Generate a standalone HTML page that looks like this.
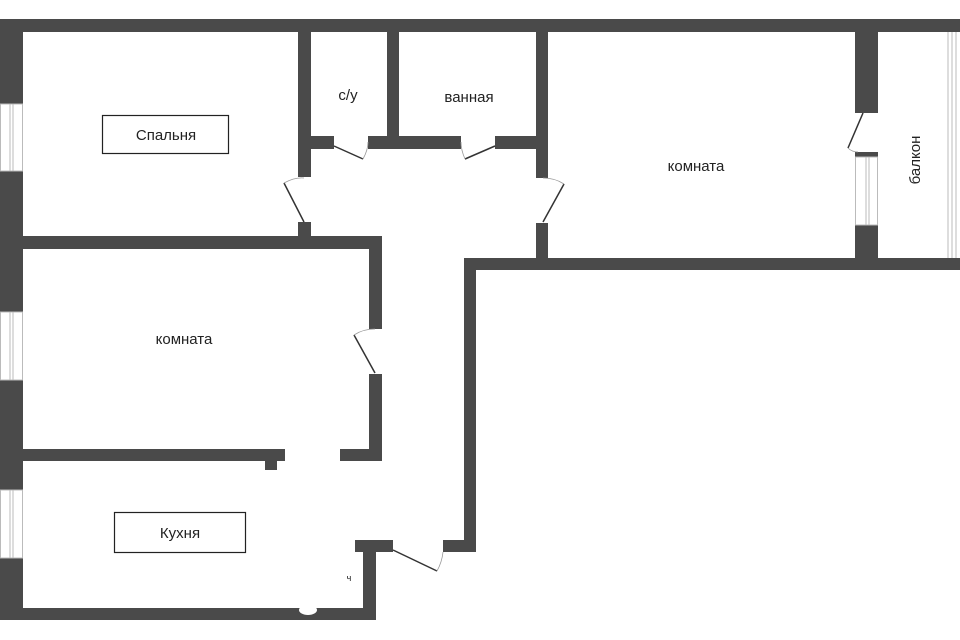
<!DOCTYPE html>
<html><head><meta charset="utf-8"><style>
html,body{margin:0;padding:0;background:#fff;width:960px;height:640px;overflow:hidden}
svg{display:block}
text{font-family:"Liberation Sans","DejaVu Sans",sans-serif;fill:#222}
</style></head><body>
<svg width="960" height="640" viewBox="0 0 960 640" xmlns="http://www.w3.org/2000/svg">
<g fill="#4a4a4a">
<rect x="0" y="19" width="960" height="13"/>
<rect x="0" y="19" width="23" height="601"/>
<rect x="298" y="32" width="13" height="145"/>
<rect x="298" y="222" width="13" height="27"/>
<rect x="387" y="32" width="12" height="104"/>
<rect x="311" y="136" width="23" height="13"/>
<rect x="368" y="136" width="93" height="13"/>
<rect x="495" y="136" width="53" height="13"/>
<rect x="536" y="32" width="12" height="146"/>
<rect x="536" y="223" width="12" height="47"/>
<rect x="0" y="236" width="382" height="13"/>
<rect x="369" y="236" width="13" height="93"/>
<rect x="369" y="374" width="13" height="87"/>
<rect x="0" y="449" width="285" height="12"/>
<rect x="265" y="449" width="12" height="21"/>
<rect x="340" y="449" width="42" height="12"/>
<rect x="464" y="258" width="496" height="12"/>
<rect x="855" y="32" width="23" height="81"/>
<rect x="855" y="152" width="23" height="5"/>
<rect x="855" y="225" width="23" height="45"/>
<rect x="464" y="258" width="12" height="294"/>
<rect x="443" y="540" width="33" height="12"/>
<rect x="355" y="540" width="38" height="12"/>
<rect x="363" y="540" width="13" height="80"/>
<rect x="0" y="608" width="376" height="12"/>
</g>
<ellipse cx="308" cy="610" rx="9" ry="5" fill="#fff"/>
<g fill="#fff" stroke="#bbb" stroke-width="1">
<rect x="0.5" y="104" width="22" height="67"/>
<rect x="0.5" y="312" width="22" height="68"/>
<rect x="0.5" y="490" width="22" height="68"/>
</g>
<g stroke="#bbb" stroke-width="1">
<line x1="10" y1="104" x2="10" y2="171"/><line x1="13" y1="104" x2="13" y2="171"/>
<line x1="10" y1="312" x2="10" y2="380"/><line x1="13" y1="312" x2="13" y2="380"/>
<line x1="10" y1="490" x2="10" y2="558"/><line x1="13" y1="490" x2="13" y2="558"/>
</g>
<rect x="855.5" y="157" width="22" height="68" fill="#fff" stroke="#bbb"/>
<line x1="866" y1="157" x2="866" y2="225" stroke="#bbb"/><line x1="869" y1="157" x2="869" y2="225" stroke="#bbb"/>
<g stroke="#bbb"><line x1="948" y1="32" x2="948" y2="258"/><line x1="952" y1="32" x2="952" y2="258"/><line x1="956" y1="32" x2="956" y2="258"/></g>
<g stroke="#333" stroke-width="1.5" fill="none">
<line x1="334" y1="146" x2="363" y2="159"/>
<line x1="495" y1="146" x2="465" y2="159"/>
<line x1="304" y1="222" x2="284" y2="183"/>
<line x1="543" y1="222" x2="564" y2="184"/>
<line x1="375" y1="373" x2="354" y2="335"/>
<line x1="863" y1="113" x2="848" y2="148"/>
<line x1="393" y1="550" x2="437" y2="571"/>
</g>
<g stroke="#999" stroke-width="0.8" fill="none">
<path d="M363 159 Q368 150 368 142"/>
<path d="M465 159 Q461 150 461 142"/>
<path d="M284 183 Q295 177 304 178"/>
<path d="M564 184 Q555 178 543 178"/>
<path d="M354 335 Q363 329 375 329"/>
<path d="M848 148 Q852 152 858 152"/>
<path d="M437 571 Q442 562 443 552"/>
</g>
<rect x="102.5" y="115.5" width="126" height="38" fill="none" stroke="#222" stroke-width="1.2"/>
<text x="166" y="140" font-size="15" text-anchor="middle">Спальня</text>
<rect x="114.5" y="512.5" width="131" height="40" fill="none" stroke="#222" stroke-width="1.2"/>
<text x="180" y="538" font-size="15" text-anchor="middle">Кухня</text>
<text x="348" y="100" font-size="15" text-anchor="middle">с/у</text>
<text x="469" y="102" font-size="15" text-anchor="middle">ванная</text>
<text x="696" y="171" font-size="15" text-anchor="middle">комната</text>
<text x="184" y="344" font-size="15" text-anchor="middle">комната</text>
<text x="0" y="0" font-size="15" text-anchor="middle" transform="translate(920,160) rotate(-90)">балкон</text>
<text x="349" y="581" font-size="9" text-anchor="middle">ч</text>
</svg>
</body></html>
